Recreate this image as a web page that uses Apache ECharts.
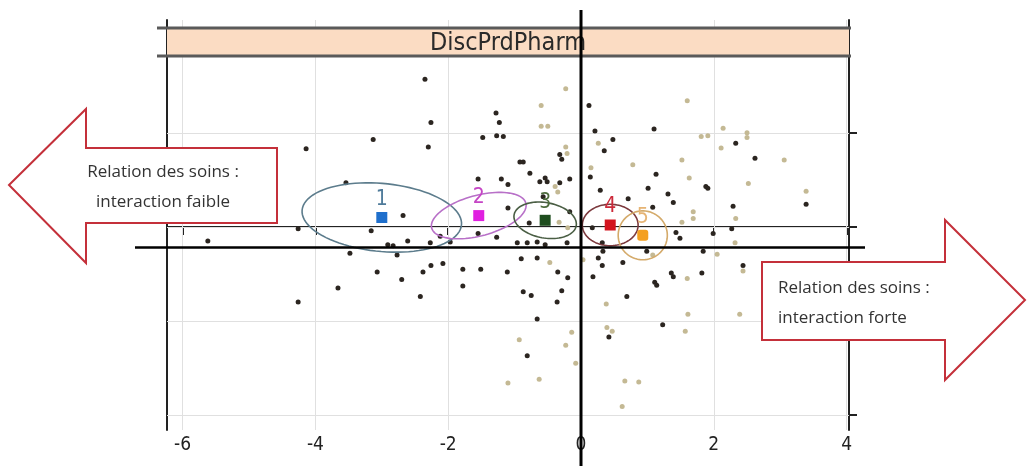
<!DOCTYPE html>
<html>
<head>
<meta charset="utf-8">
<style>
  html, body { margin: 0; padding: 0; background: #ffffff; }
  #chart { width: 1027px; height: 466px; }
</style>
<script src="https://cdn.jsdelivr.net/npm/echarts@6/dist/echarts.min.js"></script>
</head>
<body>
<div id="chart"></div>
<script>
// Panel title and annotation texts
const stripTitle = 'DiscPrdPharm';
const leftArrowText = 'Relation des soins :\ninteraction faible';
const rightArrowText = 'Relation des soins :\ninteraction forte';

// Axis ticks
const xTicks = [-6, -4, -2, 0, 2, 4];
const yTicks = [-2, -1, 0, 1];

// Reference cross (x, y)
const crossX = 0;
const crossY = -0.22;

// Individuals, dark symbols
const darkPoints = [
  [-2.35, 1.57], [-2.26, 1.11], [-3.13, 0.93], [-2.30, 0.85], [-4.14, 0.83], [-1.28, 1.21], [-1.23, 1.11], [-1.48, 0.95], [-1.27, 0.97], [-1.17, 0.96],
  [-1.55, 0.51], [-1.20, 0.51], [-1.10, 0.45], [-3.54, 0.47], [-2.68, 0.12], [-3.16, -0.04], [-4.26, -0.02], [-5.62, -0.15], [-2.61, -0.15], [-2.27, -0.17],
  [-2.91, -0.19], [-2.83, -0.20], [-2.12, -0.10], [-1.55, -0.07], [-1.27, -0.11], [-3.48, -0.28], [-2.77, -0.30], [-1.97, -0.16], [-3.07, -0.48], [-2.70, -0.56],
  [-2.38, -0.48], [-2.26, -0.41], [-2.08, -0.39], [-1.78, -0.45], [-1.51, -0.45], [-1.11, -0.48], [-1.78, -0.63], [-3.66, -0.65], [-2.42, -0.74], [-4.26, -0.80],
  [0.12, 1.29], [0.21, 1.02], [0.48, 0.93], [0.35, 0.81], [0.14, 0.53], [-0.32, 0.77], [-0.29, 0.72], [-0.92, 0.69], [-0.87, 0.69], [-0.77, 0.57],
  [-0.62, 0.48], [-0.54, 0.52], [-0.51, 0.48], [-0.17, 0.51], [-0.32, 0.47], [-0.57, 0.32], [0.29, 0.39], [1.10, 1.04], [1.13, 0.56], [1.01, 0.41],
  [1.08, 0.21], [0.71, 0.30], [1.31, 0.35], [1.39, 0.26], [1.88, 0.43], [1.91, 0.41], [2.33, 0.89], [2.62, 0.73], [3.39, 0.24], [2.29, 0.22],
  [2.27, -0.02], [1.99, -0.07], [1.43, -0.06], [1.49, -0.12], [-0.17, 0.16], [-0.78, 0.04], [-0.96, -0.17], [-0.81, -0.17], [-0.66, -0.16], [-0.21, -0.17],
  [0.17, -0.01], [0.32, -0.17], [1.84, -0.26], [0.99, -0.26], [-0.90, -0.34], [-0.66, -0.33], [-0.35, -0.48], [-0.20, -0.54], [-0.87, -0.69], [-0.75, -0.73],
  [-0.29, -0.68], [-0.36, -0.80], [-0.66, -0.98], [-0.81, -1.37], [0.26, -0.33], [0.32, -0.41], [0.18, -0.53], [0.63, -0.38], [0.69, -0.74], [1.11, -0.59],
  [1.14, -0.62], [1.36, -0.49], [1.39, -0.53], [1.82, -0.49], [1.23, -1.04], [0.42, -1.17], [2.44, -0.41], [-1.10, 0.20], [-0.54, -0.19], [0.33, -0.26]
];

// Individuals, light symbols
const lightPoints = [
  [-0.23, 1.47], [-0.60, 1.29], [-0.60, 1.07], [-0.50, 1.07], [0.26, 0.89], [0.15, 0.63], [-0.23, 0.85], [-0.21, 0.78], [-0.39, 0.43], [-0.35, 0.37],
  [1.60, 1.34], [0.78, 0.66], [1.52, 0.71], [1.63, 0.52], [1.81, 0.96], [1.91, 0.97], [2.14, 1.05], [2.11, 0.84], [2.50, 1.00], [2.50, 0.95],
  [3.06, 0.71], [2.52, 0.46], [3.39, 0.38], [1.69, 0.16], [1.69, 0.09], [1.52, 0.05], [2.33, 0.09], [-0.33, 0.05], [2.32, -0.17], [2.05, -0.29],
  [1.08, -0.30], [-0.47, -0.38], [-0.93, -1.20], [-0.23, -1.26], [-0.08, -1.45], [-1.10, -1.66], [-0.63, -1.62], [-0.14, -1.12], [0.03, -0.35], [0.38, -0.82],
  [1.60, -0.55], [1.61, -0.93], [1.57, -1.11], [0.39, -1.07], [0.47, -1.11], [0.66, -1.64], [0.87, -1.65], [0.62, -1.91], [2.44, -0.47], [2.39, -0.93],
  [-0.20, -0.01]
];

// Cluster centres and their concentration ellipses (half-axis vectors, data units)
const clusterNames = ['1', '2', '3', '4', '5'];
const clusterCenters = [[-3.00, 0.10], [-1.54, 0.12], [-0.54, 0.07], [0.44, 0.02], [0.93, -0.09]];
const ellipseMajor = [[1.20, -0.08], [0.71, 0.13], [0.47, -0.04], [0.42, 0.00], [0.37, 0.00]];
const ellipseMinor = [[-0.05, -0.36], [0.07, -0.21], [0.00, 0.19], [0.00, 0.22], [0.00, 0.26]];
const markerColors = ['#1f6fcc', '#e020e0', '#1e4d1e', '#d3141f', '#f4a021'];
const labelColors = ['#4f7b9a', '#c545c5', '#4c6b3c', '#cc2a3a', '#e6b474'];
const ellipseColors = ['#5c7c8c', '#b870c8', '#4a5e44', '#7c3a3e', '#d4aa6a'];

const narrowFont = '"Liberation Sans Narrow", "DejaVu Sans Condensed", "Liberation Sans", sans-serif';
const textFont = '"Open Sans", "Noto Sans", sans-serif';

const chart = echarts.init(document.getElementById('chart'), null, { renderer: 'canvas' });

const gridLines = xTicks.map(v => ({ xAxis: v })).concat(yTicks.map(v => ({ yAxis: v })));

chart.setOption({
  animation: false,
  backgroundColor: '#ffffff',
  grid: { left: 167, right: 178, top: 20, bottom: 36 },
  xAxis: {
    type: 'value',
    min: -6.235,
    max: 4.036,
    axisLine: { show: true, lineStyle: { color: '#222', width: 2 } },
    axisTick: { show: true, customValues: xTicks, length: 8, lineStyle: { color: '#222', width: 2 } },
    axisLabel: { show: true, customValues: xTicks, fontSize: 19, color: '#222', margin: 6, fontFamily: narrowFont },
    splitLine: { show: false }
  },
  yAxis: [
    {
      type: 'value', position: 'left', min: -2.16, max: 2.20,
      axisLine: { show: true, onZero: false, lineStyle: { color: '#222', width: 2 } },
      axisTick: { show: false }, axisLabel: { show: false }, splitLine: { show: false }
    },
    {
      type: 'value', position: 'right', min: -2.16, max: 2.20,
      axisLine: { show: true, onZero: false, lineStyle: { color: '#222', width: 2 } },
      axisTick: { show: true, customValues: yTicks, length: 8, lineStyle: { color: '#222', width: 2 } },
      axisLabel: { show: false }, splitLine: { show: false }
    }
  ],
  series: [
    {
      name: 'light',
      type: 'scatter',
      data: lightPoints,
      symbolSize: 5,
      itemStyle: { color: '#c4b994', opacity: 1 },
      silent: true,
      z: 2,
      markLine: {
        silent: true,
        symbol: ['none', 'none'],
        label: { show: false },
        lineStyle: { color: '#e0e0e0', type: 'solid', width: 1 },
        data: gridLines,
        z: 1
      }
    },
    {
      name: 'dark',
      type: 'scatter',
      data: darkPoints,
      symbolSize: 5,
      itemStyle: { color: '#2b2520', opacity: 1 },
      silent: true,
      z: 3
    },
    {
      name: 'ellipses',
      type: 'custom',
      data: clusterCenters.map(c => [c[0], c[1]]),
      encode: { x: 0, y: 1 },
      silent: true,
      z: 4,
      renderItem: function (params, api) {
        const i = params.dataIndex;
        const c = clusterCenters[i], A = ellipseMajor[i], B = ellipseMinor[i];
        const pts = [];
        for (let k = 0; k <= 90; k++) {
          const t = k / 90 * Math.PI * 2;
          pts.push(api.coord([
            c[0] + A[0] * Math.cos(t) + B[0] * Math.sin(t),
            c[1] + A[1] * Math.cos(t) + B[1] * Math.sin(t)
          ]));
        }
        return {
          type: 'polyline',
          shape: { points: pts },
          style: { fill: 'none', stroke: ellipseColors[i], lineWidth: 1.6 }
        };
      }
    },
    {
      name: 'centres',
      type: 'scatter',
      silent: true,
      z: 5,
      data: clusterCenters.map((c, i) => ({
        value: c,
        symbol: i === 4 ? 'roundRect' : 'rect',
        itemStyle: { color: markerColors[i], opacity: 1 },
        label: { color: labelColors[i] },
        name: clusterNames[i]
      })),
      symbolSize: 11,
      label: {
        show: true,
        position: 'top',
        distance: 2,
        fontSize: 21,
        fontFamily: narrowFont,
        formatter: p => p.name
      }
    }
  ]
});

// Reference cross and annotations, positioned from the axes
const origin = chart.convertToPixel({ gridIndex: 0 }, [crossX, crossY]);
const cx = origin[0], cy = origin[1];

chart.setOption({
  graphic: [
    { type: 'rect', shape: { x: 167, y: 28, width: 682, height: 28 }, style: { fill: '#fbdcc3' }, z: 10 },
    { type: 'line', shape: { x1: 157, y1: 28, x2: 851, y2: 28 }, style: { stroke: '#5a5a5a', lineWidth: 3 }, z: 11 },
    { type: 'line', shape: { x1: 157, y1: 56, x2: 851, y2: 56 }, style: { stroke: '#5a5a5a', lineWidth: 3 }, z: 11 },
    {
      type: 'text', x: 508, y: 43, z: 12,
      style: { text: stripTitle, font: '25px ' + narrowFont, fill: '#2a2a2a', align: 'center', verticalAlign: 'middle', textAlign: 'center', textVerticalAlign: 'middle' }
    },
    { type: 'line', shape: { x1: cx, y1: 10, x2: cx, y2: 466 }, style: { stroke: '#000', lineWidth: 3 }, z: 20 },
    { type: 'line', shape: { x1: 135, y1: cy, x2: 865, y2: cy }, style: { stroke: '#000', lineWidth: 2.5 }, z: 20 },
    {
      type: 'polygon', z: 30,
      shape: { points: [[9, 185], [86, 109], [86, 148], [277, 148], [277, 223], [86, 223], [86, 263]] },
      style: { fill: '#ffffff', stroke: '#c4303a', lineWidth: 2 }
    },
    {
      type: 'text', x: 163, y: 187, z: 31,
      style: { text: leftArrowText, font: '17px ' + textFont, lineHeight: 30, fill: '#333', align: 'center', verticalAlign: 'middle', textAlign: 'center', textVerticalAlign: 'middle' }
    },
    {
      type: 'polygon', z: 30,
      shape: { points: [[762, 262], [945, 262], [945, 220], [1025, 300], [945, 380], [945, 340], [762, 340]] },
      style: { fill: '#ffffff', stroke: '#c4303a', lineWidth: 2 }
    },
    {
      type: 'text', x: 778, y: 303, z: 31,
      style: { text: rightArrowText, font: '17px ' + textFont, lineHeight: 30, fill: '#333', align: 'left', verticalAlign: 'middle', textAlign: 'left', textVerticalAlign: 'middle' }
    }
  ]
});
</script>
</body>
</html>
